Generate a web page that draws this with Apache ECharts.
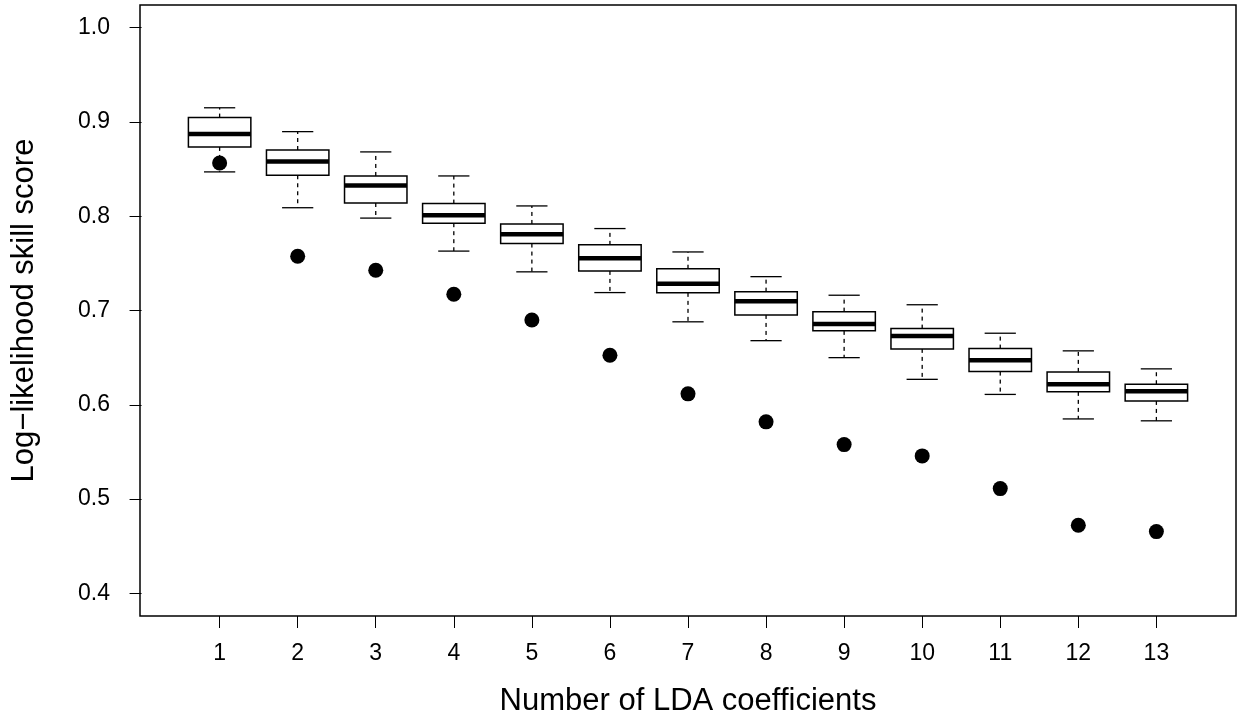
<!DOCTYPE html>
<html>
<head>
<meta charset="utf-8">
<script src="https://cdn.jsdelivr.net/npm/echarts@6/dist/echarts.min.js"></script>
<style>
html,body{margin:0;padding:0;background:#fff;}
#chart{width:1239px;height:719px;}
</style>
</head>
<body>
<div id="chart"></div>
<script>
var categories = [1, 2, 3, 4, 5, 6, 7, 8, 9, 10, 11, 12, 13];
var whiskerLow  = [0.847, 0.809, 0.798, 0.763, 0.741, 0.719, 0.688, 0.668, 0.650, 0.627, 0.611, 0.585, 0.583];
var q1          = [0.8735, 0.8435, 0.814, 0.7926, 0.771, 0.742, 0.7187, 0.6953, 0.6784, 0.6593, 0.6352, 0.6137, 0.6041];
var median      = [0.8873, 0.858, 0.8325, 0.8011, 0.7809, 0.7555, 0.7285, 0.7099, 0.6858, 0.673, 0.6473, 0.6218, 0.6144];
var q3          = [0.9046, 0.8703, 0.8427, 0.8134, 0.7918, 0.7696, 0.7443, 0.72, 0.6988, 0.6808, 0.6596, 0.6349, 0.6218];
var whiskerHigh = [0.915, 0.8897, 0.8682, 0.8427, 0.8109, 0.7869, 0.7621, 0.7359, 0.7162, 0.7061, 0.6759, 0.6572, 0.6381];
var points      = [0.8565, 0.7576, 0.7427, 0.7173, 0.690, 0.6526, 0.6116, 0.5819, 0.5578, 0.5458, 0.5111, 0.4723, 0.4655];
var yTicks = [0.4, 0.5, 0.6, 0.7, 0.8, 0.9, 1.0];

var boxData = categories.map(function (c, i) {
  return [c, whiskerLow[i], q1[i], median[i], q3[i], whiskerHigh[i]];
});
var pointData = categories.map(function (c, i) { return [c, points[i]]; });

var FONT = '"Liberation Sans", Arial, Helvetica, sans-serif';

function renderBox(params, api) {
  var x = api.value(0);
  var lo = api.value(1), a = api.value(2), m = api.value(3), b = api.value(4), hi = api.value(5);
  var halfBox = 0.4, halfCap = 0.2;
  function P(xx, yy) { return api.coord([xx, yy]); }
  var pLoL = P(x - halfCap, lo), pLoR = P(x + halfCap, lo);
  var pHiL = P(x - halfCap, hi), pHiR = P(x + halfCap, hi);
  var c = P(x, 0);
  var boxTL = P(x - halfBox, b), boxBR = P(x + halfBox, a);
  var mL = P(x - halfBox, m), mR = P(x + halfBox, m);
  var yLo = P(x, lo)[1], yA = P(x, a)[1], yB = P(x, b)[1], yHi = P(x, hi)[1];
  var dash = {stroke: '#000', lineWidth: 1.3, lineDash: [4, 4]};
  var solid = {stroke: '#000', lineWidth: 1.3};
  return {
    type: 'group',
    children: [
      {type: 'line', shape: {x1: c[0], y1: yB, x2: c[0], y2: yHi}, style: dash},
      {type: 'line', shape: {x1: c[0], y1: yA, x2: c[0], y2: yLo}, style: dash},
      {type: 'line', shape: {x1: pHiL[0], y1: pHiL[1], x2: pHiR[0], y2: pHiR[1]}, style: solid},
      {type: 'line', shape: {x1: pLoL[0], y1: pLoL[1], x2: pLoR[0], y2: pLoR[1]}, style: solid},
      {type: 'rect', shape: {x: boxTL[0], y: boxTL[1], width: boxBR[0] - boxTL[0], height: boxBR[1] - boxTL[1]},
        style: {fill: '#fff', stroke: '#000', lineWidth: 1.5}},
      {type: 'line', shape: {x1: mL[0], y1: mL[1], x2: mR[0], y2: mR[1]}, style: {stroke: '#000', lineWidth: 4.5}}
    ]
  };
}

var chart = echarts.init(document.getElementById('chart'), null, {renderer: 'canvas'});
chart.setOption({
  animation: false,
  backgroundColor: '#fff',
  grid: {left: 140, right: 3, top: 5, bottom: 103, containLabel: false, outerBoundsMode: 'none',
    show: true, borderColor: '#000', borderWidth: 1.5, backgroundColor: 'transparent'},
  xAxis: {
    type: 'value', min: -0.02, max: 14.02,
    name: 'Number of LDA coefficients', nameLocation: 'middle', nameGap: 70,
    nameTextStyle: {fontFamily: FONT, fontSize: 31, color: '#000'},
    axisLine: {show: false},
    splitLine: {show: false},
    axisTick: {show: true, inside: false, length: 12, lineStyle: {color: '#000', width: 1}, customValues: categories},
    axisLabel: {show: true, margin: 26, fontFamily: FONT, fontSize: 23, color: '#000', customValues: categories,
      formatter: function (v) { return String(v); }}
  },
  yAxis: {
    type: 'value', min: 0.376, max: 1.024,
    name: 'Log\u2212likelihood skill score', nameLocation: 'middle', nameGap: 100, nameRotate: 90,
    nameTextStyle: {fontFamily: FONT, fontSize: 31, color: '#000'},
    axisLine: {show: false},
    splitLine: {show: false},
    axisTick: {show: true, inside: false, length: 12, lineStyle: {color: '#000', width: 1}, customValues: yTicks},
    axisLabel: {show: true, margin: 30, fontFamily: FONT, fontSize: 23, color: '#000', customValues: yTicks,
      formatter: function (v) { return v.toFixed(1); }}
  },
  series: [
    {type: 'custom', renderItem: renderBox, data: boxData, z: 2, encode: {x: 0, y: [1, 2, 3, 4, 5]}},
    {type: 'scatter', data: pointData, symbol: 'circle', symbolSize: 15, itemStyle: {color: '#000', opacity: 1}, emphasis: {disabled: true}, z: 3}
  ]
});
</script>
</body>
</html>
